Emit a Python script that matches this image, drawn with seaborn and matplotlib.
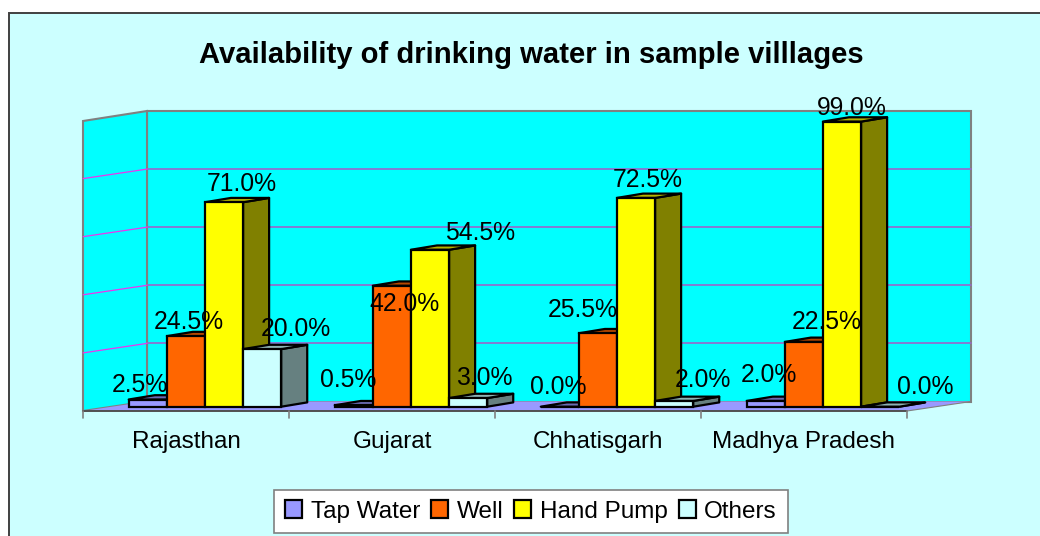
import matplotlib
matplotlib.use("Agg")
import pandas as pd
import seaborn as sns
from matplotlib import pyplot as plt
from matplotlib.patches import Patch, Polygon
from matplotlib.transforms import ScaledTranslation

states = ["Rajasthan", "Gujarat", "Chhatisgarh", "Madhya Pradesh"]
sources = ["Tap Water", "Well", "Hand Pump", "Others"]
tap_water = [2.5, 0.5, 0.0, 2.0]
well = [24.5, 42.0, 25.5, 22.5]
hand_pump = [71.0, 54.5, 72.5, 99.0]
others = [20.0, 3.0, 2.0, 0.0]
grid_values = [0, 20, 40, 60, 80, 100]

front_colors = ["#9999FF", "#FF6600", "#FFFF00", "#CCFFFF"]
top_colors = ["#6B6BB3", "#B34700", "#B3B300", "#8FB3B3"]
side_colors = ["#4D4D80", "#803300", "#808000", "#668080"]

# hand placed label offsets in px from the top centre of each bar, same order as the bars
label_dx = [-8, 3, 17.5, 33.5, -6, 13, 50, 16, -1.3, -15, 11.7, 28.7, 2.7, 23, 9.7, 44.7]
label_dy = [15, 14, 18, 20.5, 25, -18.5, 17.2, 20, 20.2, 22.8, 17.7, 20.7, 26.4, 19.7, 13.4, 20.2]

df = pd.DataFrame({"state": states * 4,
                   "source": [s for s in sources for _ in states],
                   "value": tap_water + well + hand_pump + others})

sns.set_style("white")
plt.rcParams["font.family"] = ["Liberation Sans", "DejaVu Sans"]

fig = plt.figure(figsize=(10.4, 5.36), dpi=100, facecolor="white")

# background in pixel coords: chart area, walls, floor
bg = fig.add_axes([0, 0, 1, 1])
bg.set_xlim(0, 1040)
bg.set_ylim(536, 0)
bg.axis("off")
bg.add_patch(Polygon([(9, 13), (1045, 13), (1045, 540), (9, 540)], fc="#CCFFFF", ec="#404040", lw=1.4))
bg.add_patch(Polygon([(147, 111), (971, 111), (971, 401.5), (147, 401.5)], fc="#00FFFF", ec="#808080", lw=1.5))
bg.add_patch(Polygon([(83, 121), (147, 111), (147, 401.5), (83, 411)], fc="#00FFFF", ec="#808080", lw=1.5))
bg.add_patch(Polygon([(83, 411), (147, 401.5), (971, 401.5), (907, 411)], fc="#9999FF", ec="none"))
for v in grid_values[1:-1]:
    y = 401.5 - v * 2.905
    bg.plot([147, 971], [y, y], color="#9966CC", lw=1.2)
    bg.plot([83, 147], [y + 9.5, y], color="#EE33EE", lw=0.9)
bg.plot([83, 907], [411, 411], color="#505050", lw=1.4)
bg.plot([907, 971], [411, 401.5], color="#808080", lw=0.8)
for i in range(5):
    bg.plot([83 + 206 * i] * 2, [411, 417.5], color="#808080", lw=1.2)

# bars, front plane goes from px 102 to 926 and 0-100 spans 288 px
ax = fig.add_axes([102 / 1040, (536 - 406.7) / 536, 824 / 1040, 288 / 536])
ax.patch.set_alpha(0)
sns.barplot(data=df, x="state", y="value", hue="source", order=states, hue_order=sources,
            palette=dict(zip(sources, front_colors)), width=0.74, gap=0, saturation=1,
            edgecolor="black", linewidth=1.6, legend=False, ax=ax)
ax.set_xlim(-0.5, 3.5)
ax.set_ylim(0, 100)
ax.set_xlabel("")
ax.set_ylabel("")
ax.set_yticks([])
sns.despine(ax=ax, left=True, bottom=True)

# depth of each bar in data units
depth_x = 26 / 206
depth_y = 4.3 / 2.88

bars = []
for s, series in enumerate(ax.containers):
    for c, patch in enumerate(series):
        bars.append((c, s, patch, series.datavalues[c]))
bars.sort(key=lambda b: (b[0], b[1]))

for n, (c, s, patch, value) in enumerate(bars):
    x0 = patch.get_x()
    x1 = x0 + patch.get_width()
    order = 3 + n * 0.1
    patch.set_zorder(order)
    patch.set_clip_on(False)
    ax.add_patch(Polygon([(x1, 0), (x1 + depth_x, depth_y), (x1 + depth_x, value + depth_y), (x1, value)],
                         fc=side_colors[s], ec="black", lw=1.6, zorder=order - 0.05, clip_on=False, joinstyle="round"))
    ax.add_patch(Polygon([(x0, value), (x0 + depth_x, value + depth_y), (x1 + depth_x, value + depth_y), (x1, value)],
                         fc=top_colors[s], ec="black", lw=1.6, zorder=order - 0.05, clip_on=False, joinstyle="round"))
    ax.annotate(f"{value:.1f}%", xy=(x0 + patch.get_width() / 2, value),
                xytext=(label_dx[n] * 0.72, label_dy[n] * 0.72), textcoords="offset points",
                ha="center", va="center", fontsize=17.8, color="black", zorder=20, annotation_clip=False)

# category labels sit left of the group because of the depth
ax.tick_params(axis="x", length=0, pad=17.5, labelsize=17.5)
shift = ScaledTranslation(-19 / 100, 0, fig.dpi_scale_trans)
for label in ax.get_xticklabels():
    label.set_transform(label.get_transform() + shift)
    label.set_color("black")

fig.text(531 / 1040, 1 - 55 / 536, "Availability of drinking water in sample villlages",
         ha="center", va="center", fontsize=21.1, fontweight="bold", color="black")

handles = [Patch(fc=c, ec="black", lw=1.6, label=s) for c, s in zip(front_colors, sources)]
leg = fig.legend(handles=handles, ncol=4, loc="center", bbox_to_anchor=(531 / 1040, 1 - 511.5 / 536),
                 frameon=True, fancybox=False, framealpha=1, facecolor="white", edgecolor="#808080",
                 fontsize=17.5, handlelength=0.7, handleheight=0.7, handletextpad=0.35, columnspacing=0.45,
                 borderpad=0.45, borderaxespad=0, labelcolor="black")
leg.get_frame().set_linewidth(1.2)

fig.savefig("out.png", dpi=100)
